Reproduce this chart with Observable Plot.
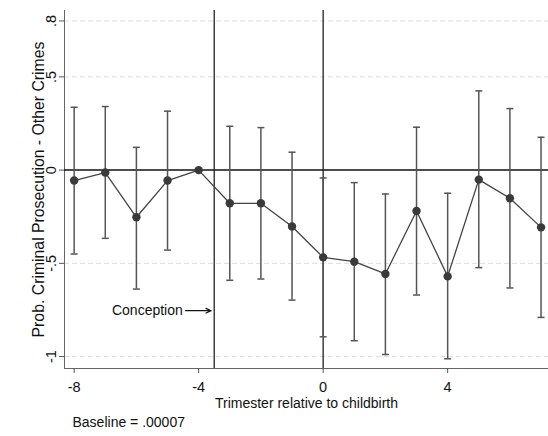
<!DOCTYPE html>
<html>
<head>
<meta charset="utf-8">
<script src="https://cdn.jsdelivr.net/npm/d3@7"></script>
<script src="https://cdn.jsdelivr.net/npm/@observablehq/plot@0.6"></script>
<style>
  html, body { margin: 0; padding: 0; background: #fff; }
  #chart svg { display: block; }
</style>
</head>
<body>
<div id="chart"></div>
<script>
// Event-study estimates by trimester relative to childbirth
const trimesters = [-8, -7, -6, -5, -4, -3, -2, -1, 0, 1, 2, 3, 4, 5, 6, 7];
const estimates  = [-0.056, -0.013, -0.253, -0.056, 0, -0.178, -0.178, -0.302, -0.468, -0.491, -0.557, -0.219, -0.570, -0.051, -0.151, -0.307];
const ciUpper    = [0.337, 0.341, 0.122, 0.316, null, 0.235, 0.228, 0.096, -0.042, -0.067, -0.128, 0.230, -0.124, 0.425, 0.330, 0.176];
const ciLower    = [-0.450, -0.366, -0.638, -0.429, null, -0.591, -0.584, -0.697, -0.894, -0.915, -0.989, -0.670, -1.012, -0.523, -0.632, -0.790];

// Axis ticks and labels
const yTicks = [-1, -0.5, 0, 0.5, 0.8];
const yTickLabels = ["-1", "-.5", "0", ".5", ".8"];
const xTicks = [-8, -4, 0, 4];
const gridLines = [-1, -0.5, 0.5, 0.8];

// Reference lines: conception (-3.5) and childbirth (0)
const eventLines = [-3.5, 0];
const conceptionNote = [{x: -4.51, y: -0.754, arrowFrom: -4.42, arrowTo: -3.6, text: "Conception"}];

const yLabel = "Prob. Criminal Prosecution - Other Crimes";
const xLabel = "Trimester relative to childbirth";
const baselineNote = "Baseline = .00007";

const rows = trimesters.map((t, i) => ({t, est: estimates[i], hi: ciUpper[i], lo: ciLower[i]}));
const ciRows = rows.filter(d => d.hi != null);

// horizontal cap used at the ends of each confidence interval
const capSymbol = {
  draw(context, size) {
    const w = 3.5;
    context.moveTo(-w, 0);
    context.lineTo(w, 0);
  }
};

const chart = Plot.plot({
  width: 548,
  height: 436,
  marginLeft: 64,
  marginRight: 0,
  marginTop: 10,
  marginBottom: 68,
  style: {fontFamily: "'Liberation Sans', Arial, sans-serif", fontSize: "14px", color: "#111", background: "#fff"},
  x: {domain: [-8.31, 7.24]},
  y: {domain: [-1.064, 0.856]},
  marks: [
    // dashed light grid
    Plot.ruleY(gridLines, {stroke: "#dcdcdc", strokeDasharray: "5,3", strokeWidth: 1}),
    // axis lines
    Plot.frame({anchor: "left", stroke: "#666"}),
    Plot.frame({anchor: "bottom", stroke: "#666"}),
    Plot.axisY({ticks: yTicks, tickFormat: d => yTickLabels[yTicks.indexOf(d)], tickSize: 5, tickRotate: -90, stroke: "#555", fill: "#111", fontSize: 14.5, label: null}),
    Plot.axisX({ticks: xTicks, tickFormat: d => String(d), tickSize: 5, tickPadding: 8, stroke: "#555", fill: "#111", fontSize: 14.5, label: null}),
    // zero line and event markers
    Plot.ruleY([0], {stroke: "#111", strokeWidth: 1.5}),
    Plot.ruleX(eventLines, {stroke: "#222", strokeWidth: 1.3}),
    // confidence intervals
    Plot.ruleX(ciRows, {x: "t", y1: "lo", y2: "hi", stroke: "#555", strokeWidth: 1.5}),
    Plot.dot(ciRows, {x: "t", y: "hi", symbol: capSymbol, stroke: "#555", strokeWidth: 1.5, fill: "none", r: 3.5}),
    Plot.dot(ciRows, {x: "t", y: "lo", symbol: capSymbol, stroke: "#555", strokeWidth: 1.5, fill: "none", r: 3.5}),
    // point estimates
    Plot.line(rows, {x: "t", y: "est", stroke: "#444", strokeWidth: 1.3}),
    Plot.dot(rows, {x: "t", y: "est", r: 4.2, fill: "#3a3a3a", stroke: "none"}),
    // conception annotation
    Plot.text(conceptionNote, {x: "x", y: "y", text: "text", textAnchor: "end", fill: "#111", fontSize: 14}),
    Plot.arrow(conceptionNote, {x1: "arrowFrom", x2: "arrowTo", y1: "y", y2: "y", stroke: "#111", strokeWidth: 1.2, headLength: 7, headAngle: 50}),
    // titles
    Plot.text([yLabel], {frameAnchor: "left", dx: -26, rotate: -90, textAnchor: "middle", fill: "#111", fontSize: 15.8}),
    Plot.text([xLabel], {frameAnchor: "bottom", dy: 39, textAnchor: "middle", fill: "#111", fontSize: 14}),
    Plot.text([baselineNote], {frameAnchor: "bottom-left", dx: 8, dy: 58, textAnchor: "start", fill: "#111", fontSize: 14})
  ]
});

document.getElementById("chart").appendChild(chart);
</script>
</body>
</html>
